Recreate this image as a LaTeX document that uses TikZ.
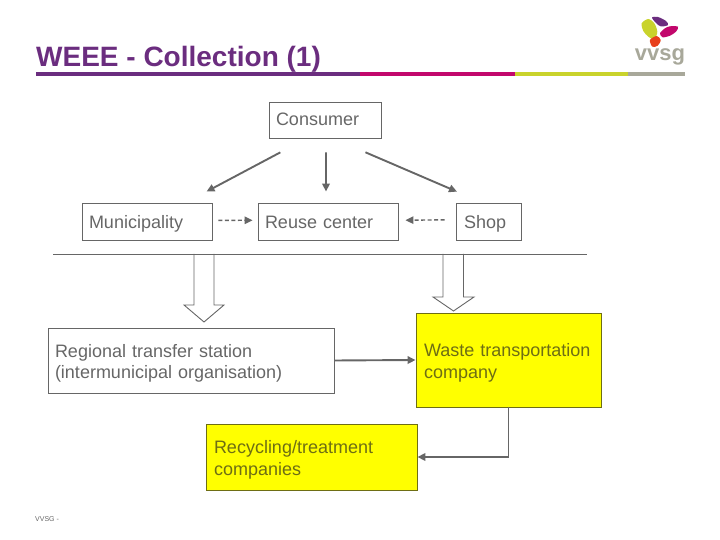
\documentclass[tikz,border=0pt]{standalone}
\usepackage{fontspec}
\setmainfont{Liberation Sans}
\usetikzlibrary{positioning,arrows.meta}
\definecolor{linegray}{HTML}{666666}
\definecolor{olivetext}{HTML}{6E6E14}
\definecolor{boxyellow}{HTML}{FFFF00}
\definecolor{vpurple}{HTML}{6B2D7F}
\definecolor{vmagenta}{HTML}{C2076C}
\definecolor{vlime}{HTML}{C9D32C}
\definecolor{vgray}{HTML}{A8A89A}
\definecolor{vred}{HTML}{E8401C}
\tikzset{
  box/.style={draw=linegray,line width=0.9pt,text=linegray,align=left,anchor=center,inner sep=0pt,font=\fontsize{18}{21.5}\selectfont},
  oneline/.style={box,minimum height=37pt,text height=16pt,text depth=1pt},
  twoline/.style={box,execute at begin node={\rule{0pt}{18.5pt}}},
  yellowbox/.style={twoline,fill=boxyellow,draw=olivetext,text=olivetext},
  flow/.style={draw=linegray,line width=1.9pt,-{Triangle[length=8pt,width=7.5pt]}},
  dashflow/.style={flow,line width=1.4pt,dash pattern=on 4pt off 2.5pt},
  hollow/.style={draw=linegray,line width=0.9pt,fill=white,line join=miter},
  rulebar/.style={line width=4pt}
}
\begin{document}
\begin{tikzpicture}[x=1pt,y=1pt,node distance=100pt,on grid]
    \useasboundingbox (0,0) rectangle (720,540);
    % title and rule
    \node[anchor=base west,inner sep=0pt,text=vpurple,font=\fontsize{28}{30}\selectfont\bfseries] (title) at (36,473.5) {WEEE - Collection (1)};
    \draw[rulebar,vpurple] (36,466) -- (360,466);
    \draw[rulebar,vmagenta] (360,466) -- (515,466);
    \draw[rulebar,vlime] (515,466) -- (628,466);
    \draw[rulebar,vgray] (628,466) -- (685,466);
    % logo
    \fill[vlime] plot[smooth cycle] coordinates {(641.7,516.7) (648.3,521) (654.3,516.7) (657.3,508.3) (654.3,500.7) (648.3,503.3) (643.3,509)};
    \fill[vpurple] plot[smooth cycle] coordinates {(652,522.5) (658,523) (666,519) (668,515) (661,513.5) (656,517)};
    \fill[vmagenta] plot[smooth cycle] coordinates {(660,506.7) (665,511.7) (670,513.7) (678,513.3) (676,508.3) (670,504.3) (662.7,502.7)};
    \fill[vred] plot[smooth cycle] coordinates {(650,500) (656.7,504) (660.7,500) (657.7,494.3) (652.3,493.3)};
    \node[anchor=base,inner sep=0pt,text=vgray,font=\fontsize{22}{24}\selectfont\bfseries] (logotext) at (660,479) {vvsg};
    \node[anchor=base west,inner sep=0pt,text=linegray,font=\fontsize{7}{8}\selectfont] (footer) at (35,18) {VVSG -};
    % boxes
    \node[oneline,minimum width=130pt,text width=116pt] (municipality) at (147,318.5) {Municipality};
    \node[oneline,minimum width=140pt,text width=126pt,right=181pt of municipality] (reuse) {Reuse center};
    \node[oneline,minimum width=65pt,text width=49pt,right=160.5pt of reuse] (shop) {Shop};
    \node[oneline,minimum width=112pt,minimum height=36pt,text width=98pt,text height=14pt,text depth=3pt] (consumer) at (325,420) {Consumer};
    \node[twoline,minimum width=286pt,minimum height=65pt,text width=272pt] (regional) at (191,179.5) {Regional transfer station\\(intermunicipal organisation)};
    \node[yellowbox,minimum width=185pt,minimum height=94pt,text width=169pt] (waste) at (508.5,180) {Waste transportation\\company};
    \node[yellowbox,minimum width=211pt,minimum height=66pt,text width=195pt] (recycling) at (311.5,83) {Recycling/treatment\\companies};
    % arrows
    \draw[flow,shorten <=29.7pt,shorten >=23.4pt] (consumer.225) -- (municipality.26);
    \draw[flow,shorten <=14pt,shorten >=11pt] (consumer.-87) -- (reuse.96);
    \draw[flow,shorten <=35.1pt,shorten >=27.6pt] (consumer.-66.6) -- (shop.108.5);
    \draw[dashflow,shorten <=6pt,shorten >=5pt] (municipality.1) -- (reuse.179);
    \draw[dashflow,shorten <=11pt,shorten >=7pt] (shop.177) -- (reuse.1);
    \draw[flow] (regional.east) -- (waste.west);
    \draw[flow] (waste.south) |- (recycling.east);
    % block arrows and separator
    \coordinate (dropa) at (203.5,286);
    \coordinate (dropb) at (453,286);
    \draw[hollow] (dropa) ++(-9.5,0) -- ++(0,-51) -- ++(-10,0) -- ++(20,-17) -- ++(20,17) -- ++(-10,0) -- ++(0,51);
    \draw[hollow] (dropb) ++(-10,0) -- ++(0,-43) -- ++(-10,0) -- ++(20.5,-14) -- ++(20.5,14) -- ++(-10.5,0) -- ++(0,43);
    \coordinate (ruleleft) at (53,286);
    \coordinate (ruleright) at (587,286);
    \draw[draw=linegray,line width=0.9pt] (ruleleft) -- (ruleright);
\end{tikzpicture}
\end{document}
